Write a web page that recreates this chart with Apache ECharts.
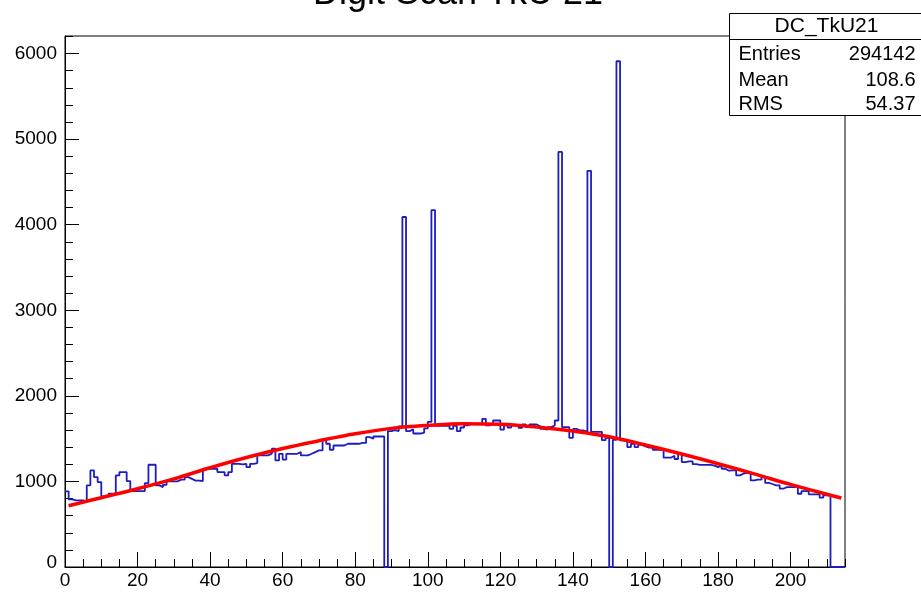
<!DOCTYPE html>
<html>
<head>
<meta charset="utf-8">
<script src="https://cdn.jsdelivr.net/npm/echarts@6/dist/echarts.min.js"></script>
<style>
html,body{margin:0;padding:0;background:#fff;}
#chart{width:921px;height:593px;}
</style>
</head>
<body>
<div id="chart"></div>
<script>
// ---- data ----
const titleText = 'Digit Scan TkU 21';
const histName = 'DC_TkU21';
const statLabels = ['Entries', 'Mean', 'RMS'];
const statValues = ['294142', '108.6', '54.37'];

// bin contents, bins of width 1 starting at 0 (0..214)
const binCounts = [
  884, 790, 778, 778, 778, 760, 954, 1129, 1050, 992,
  825, 830, 857, 857, 1070, 1109, 1109, 1004, 887, 887,
  887, 887, 980, 1195, 1195, 954, 934, 960, 1000, 1000,
  1000, 1020, 1020, 1050, 1030, 1010, 1010, 1005, 1148, 1148,
  1148, 1148, 1109, 1109, 1070, 1109, 1206, 1206, 1200, 1206,
  1167, 1206, 1215, 1304, 1304, 1304, 1323, 1382, 1245, 1323,
  1255, 1323, 1323, 1323, 1343, 1304, 1304, 1323, 1343, 1362,
  1362, 1487, 1440, 1370, 1420, 1420, 1420, 1440, 1440, 1440,
  1440, 1450, 1450, 1517, 1500, 1525, 1525, 1525, 0, 1588,
  1600, 1588, 1643, 4090, 1588, 1610, 1560, 1560, 1570, 1620,
  1695, 4170, 1650, 1650, 1650, 1650, 1615, 1650, 1588, 1630,
  1654, 1673, 1673, 1673, 1673, 1731, 1654, 1673, 1712, 1712,
  1606, 1654, 1630, 1654, 1654, 1627, 1666, 1634, 1666, 1666,
  1643, 1615, 1604, 1634, 1654, 1712, 4850, 1634, 1634, 1510,
  1614, 1595, 1595, 1580, 4630, 1580, 1580, 1580, 1482, 1510,
  0, 1486, 5910, 1480, 1480, 1401, 1440, 1401, 1430, 1410,
  1394, 1394, 1370, 1370, 1370, 1277, 1277, 1300, 1262, 1320,
  1226, 1235, 1235, 1202, 1194, 1194, 1194, 1194, 1185, 1167,
  1185, 1148, 1125, 1130, 1130, 1070, 1090, 1100, 1100, 1012,
  1020, 1020, 1055, 982, 970, 954, 954, 915, 934, 934,
  934, 940, 856, 887, 887, 849, 849, 849, 810, 837,
  837, 0, 0, 0, 0
];

// fitted curve, read at a few x positions
const fitX = [1, 10, 20, 30, 40, 50, 60, 70, 80, 90, 100, 110, 120, 130, 140, 150, 160, 170, 180, 190, 200, 210, 214];
const fitY = [716, 810, 915, 1030, 1160, 1280, 1385, 1475, 1557, 1620, 1655, 1674, 1668, 1636, 1588, 1522, 1425, 1320, 1207, 1088, 965, 850, 806];

// axis ranges / ticks
const xMin = 0, xMax = 215, xMajor = 20, xMinor = 5;
const yMin = 0, yMax = 6205, yMajor = 1000, yMinor = 200;

// ---- build series data ----
const histData = binCounts.map((v, i) => [i, v]);
histData.push([binCounts.length, binCounts[binCounts.length - 1]]);
const fitData = fitX.map((x, i) => [x, fitY[i]]);

const FONT = 'Liberation Sans, Arial, Helvetica, sans-serif';

const chart = echarts.init(document.getElementById('chart'), null, {renderer: 'canvas'});

const baseX = {
  type: 'value', min: xMin, max: xMax, position: 'bottom',
  splitLine: {show: false},
};
const baseY = {
  type: 'value', min: yMin, max: yMax, position: 'left',
  splitLine: {show: false},
};

const option = {
  animation: false,
  backgroundColor: '#fff',
  grid: {left: 65, right: 76, top: 36, bottom: 26, show: true, borderColor: '#000', borderWidth: 1, backgroundColor: 'transparent'},
  xAxis: [
    Object.assign({}, baseX, {
      interval: xMajor,
      axisLine: {show: true, onZero: false, lineStyle: {color: '#000', width: 1}},
      axisTick: {show: true, inside: true, length: 15, lineStyle: {color: '#000', width: 1}},
      axisLabel: {show: true, color: '#000', fontSize: 19, fontFamily: FONT, margin: 4, showMaxLabel: false}
    }),
    Object.assign({}, baseX, {
      interval: xMinor,
      axisLine: {show: false, onZero: false},
      axisTick: {show: true, inside: true, length: 8, lineStyle: {color: '#000', width: 1}},
      axisLabel: {show: false}
    })
  ],
  yAxis: [
    Object.assign({}, baseY, {
      interval: yMajor,
      axisLine: {show: true, onZero: false, lineStyle: {color: '#000', width: 1}},
      axisTick: {show: true, inside: true, length: 14, lineStyle: {color: '#000', width: 1}},
      axisLabel: {
        show: true, color: '#000', fontSize: 19, fontFamily: FONT, margin: 8, showMaxLabel: false,
        formatter: function (v) { return v === 0 ? '{z|0}' : String(v); },
        rich: {z: {fontSize: 19, fontFamily: FONT, color: '#000', padding: [0, 0, 8, 0]}}
      }
    }),
    Object.assign({}, baseY, {
      interval: yMinor,
      axisLine: {show: false, onZero: false},
      axisTick: {show: true, inside: true, length: 8, lineStyle: {color: '#000', width: 1}},
      axisLabel: {show: false}
    })
  ],
  series: [
    {
      name: histName, type: 'line', step: 'end', data: histData,
      xAxisIndex: 0, yAxisIndex: 0,
      showSymbol: false, symbol: 'none',
      lineStyle: {color: '#1c1cbf', width: 1.8},
      clip: true, z: 2
    },
    {
      name: 'fit', type: 'line', data: fitData, smooth: 0.4,
      xAxisIndex: 0, yAxisIndex: 0,
      showSymbol: false, symbol: 'none',
      lineStyle: {color: '#ff0000', width: 3.5},
      clip: true, z: 3
    }
  ],
  graphic: [
    {
      type: 'text', x: 458, y: -6, z: 10,
      style: {text: titleText, font: '36px ' + FONT, fill: '#000', textAlign: 'center', textVerticalAlign: 'middle'}
    },
    {
      type: 'group', left: 727, top: 13, z: 20,
      children: [
        {type: 'rect', shape: {x: 0, y: 0, width: 193, height: 102}, style: {fill: '#fff', stroke: '#000', lineWidth: 1}},
        {type: 'line', shape: {x1: 0, y1: 26, x2: 193, y2: 26}, style: {stroke: '#000', lineWidth: 1}},
        {type: 'text', x: 97, y: 13, style: {text: histName, font: '21px ' + FONT, fill: '#000', textAlign: 'center', textVerticalAlign: 'middle'}},
        {type: 'text', x: 9, y: 41, style: {text: statLabels[0], font: '20px ' + FONT, fill: '#000', textAlign: 'left', textVerticalAlign: 'middle'}},
        {type: 'text', x: 9, y: 67, style: {text: statLabels[1], font: '20px ' + FONT, fill: '#000', textAlign: 'left', textVerticalAlign: 'middle'}},
        {type: 'text', x: 9, y: 91, style: {text: statLabels[2], font: '20px ' + FONT, fill: '#000', textAlign: 'left', textVerticalAlign: 'middle'}},
        {type: 'text', x: 186, y: 41, style: {text: statValues[0], font: '20px ' + FONT, fill: '#000', textAlign: 'right', textVerticalAlign: 'middle'}},
        {type: 'text', x: 186, y: 67, style: {text: statValues[1], font: '20px ' + FONT, fill: '#000', textAlign: 'right', textVerticalAlign: 'middle'}},
        {type: 'text', x: 186, y: 91, style: {text: statValues[2], font: '20px ' + FONT, fill: '#000', textAlign: 'right', textVerticalAlign: 'middle'}}
      ]
    }
  ]
};
chart.setOption(option);
</script>
</body>
</html>
